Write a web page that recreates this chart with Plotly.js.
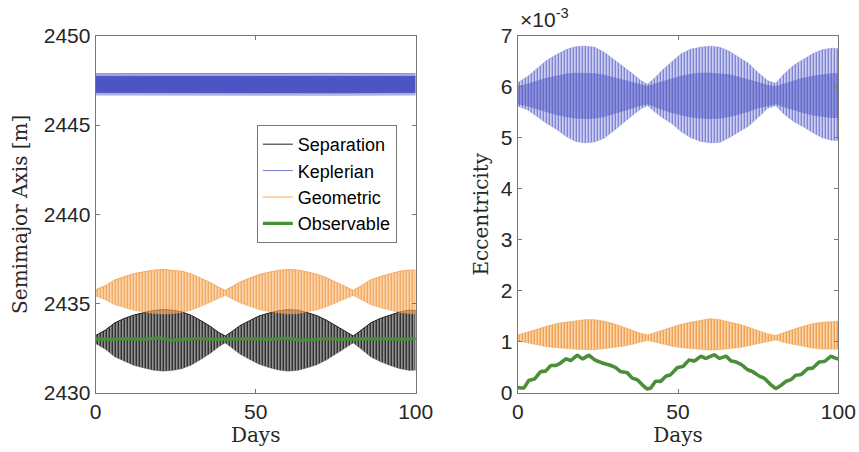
<!DOCTYPE html>
<html>
<head>
<meta charset="utf-8">
<script src="https://cdn.plot.ly/plotly-3.0.1.min.js"></script>
<style>html,body{margin:0;padding:0;background:#fff;}#chart{width:859px;height:452px;}</style>
</head>
<body>
<div id="chart"></div>
<script>
// Envelope sample days
const envDays = [0,3,6,9,12,15,18,21,24,27,30,33,36,38.5,40.5,42.5,45,48,51,54,57,60,63,66,69,72,75,78,80.5,83,86,89,92,95,98,100];

// Left panel: semimajor axis [m] — upper/lower envelopes of the fast oscillation
const sepUpper = [2433.20,2433.50,2433.91,2434.16,2434.35,2434.49,2434.60,2434.65,2434.62,2434.52,2434.32,2434.02,2433.69,2433.36,2433.17,2433.41,2433.74,2434.02,2434.29,2434.45,2434.58,2434.65,2434.62,2434.49,2434.32,2434.07,2433.74,2433.41,2433.17,2433.50,2433.91,2434.16,2434.35,2434.52,2434.62,2434.60];
const sepLower = [2432.74,2432.43,2431.99,2431.73,2431.51,2431.38,2431.25,2431.20,2431.23,2431.34,2431.55,2431.87,2432.22,2432.57,2432.78,2432.51,2432.16,2431.87,2431.59,2431.41,2431.27,2431.20,2431.23,2431.38,2431.55,2431.81,2432.16,2432.51,2432.78,2432.43,2431.99,2431.73,2431.51,2431.34,2431.23,2431.25];
const geoUpper = [2435.76,2435.99,2436.32,2436.51,2436.67,2436.77,2436.86,2436.90,2436.87,2436.80,2436.64,2436.41,2436.15,2435.89,2435.73,2435.93,2436.19,2436.41,2436.61,2436.74,2436.85,2436.90,2436.87,2436.77,2436.64,2436.45,2436.19,2435.93,2435.73,2435.99,2436.32,2436.51,2436.67,2436.80,2436.87,2436.86];
const geoLower = [2435.41,2435.21,2434.92,2434.75,2434.61,2434.52,2434.43,2434.40,2434.42,2434.49,2434.63,2434.84,2435.07,2435.30,2435.44,2435.26,2435.03,2434.84,2434.65,2434.54,2434.45,2434.40,2434.42,2434.52,2434.63,2434.80,2435.03,2435.26,2435.44,2435.21,2434.92,2434.75,2434.61,2434.49,2434.42,2434.43];
const kepDays = [0,25,50,75,100];
const kepOuterUpper = [2447.88,2447.90,2447.88,2447.90,2447.88];
const kepOuterLower = [2446.68,2446.66,2446.68,2446.66,2446.68];
const kepCoreUpper = [2447.74,2447.75,2447.74,2447.75,2447.74];
const kepCoreLower = [2446.82,2446.80,2446.82,2446.80,2446.82];
const obsADays = [0,5,10,15,20,24,28,32,36,40,45,50,55,60,64,68,72,76,80,85,90,95,100];
const obsA = [2433.0,2432.98,2433.02,2432.98,2433.06,2432.92,2433.0,2433.03,2432.98,2433.0,2432.98,2433.02,2432.98,2433.05,2432.93,2433.0,2433.03,2432.98,2433.0,2432.98,2433.02,2432.98,2433.03];

// Right panel: eccentricity (units of 1e-3)
const kepEUpper = [6.08,6.20,6.36,6.52,6.63,6.73,6.79,6.80,6.78,6.68,6.54,6.40,6.25,6.12,6.05,6.16,6.32,6.49,6.65,6.74,6.78,6.80,6.78,6.70,6.58,6.46,6.28,6.12,6.07,6.25,6.42,6.53,6.65,6.73,6.76,6.75];
const kepELower = [5.62,5.55,5.42,5.28,5.17,5.03,4.93,4.90,4.92,4.99,5.14,5.30,5.45,5.57,5.63,5.52,5.40,5.28,5.12,5.00,4.93,4.90,4.91,5.00,5.12,5.23,5.40,5.58,5.63,5.47,5.32,5.22,5.10,5.00,4.95,4.95];
const kepECoreUpper = [6.02,6.06,6.12,6.18,6.22,6.26,6.28,6.28,6.27,6.24,6.19,6.13,6.08,6.04,6.02,6.06,6.11,6.17,6.22,6.26,6.28,6.28,6.27,6.25,6.20,6.15,6.09,6.04,6.02,6.07,6.13,6.18,6.22,6.25,6.27,6.27];
const kepECoreLower = [5.66,5.62,5.56,5.50,5.45,5.41,5.38,5.37,5.38,5.41,5.47,5.53,5.59,5.63,5.66,5.61,5.55,5.49,5.44,5.40,5.38,5.37,5.38,5.41,5.46,5.51,5.58,5.63,5.66,5.60,5.54,5.49,5.44,5.41,5.39,5.39];
const geoEUpper = [1.13,1.18,1.24,1.30,1.35,1.38,1.41,1.43,1.43,1.40,1.35,1.28,1.21,1.16,1.13,1.17,1.23,1.29,1.34,1.38,1.42,1.45,1.43,1.39,1.34,1.28,1.21,1.15,1.12,1.18,1.24,1.30,1.35,1.38,1.40,1.40];
const geoELower = [1.01,0.97,0.93,0.90,0.88,0.86,0.85,0.84,0.84,0.86,0.88,0.91,0.95,0.99,1.02,0.99,0.95,0.91,0.88,0.86,0.84,0.83,0.84,0.86,0.88,0.92,0.96,1.00,1.03,0.98,0.94,0.90,0.87,0.85,0.85,0.85];
const obsEDays = [0,1.9,3.5,5.1,7.2,8.7,10.3,11.8,13.4,15.0,16.5,18.6,20.2,22.2,23.8,26.4,29.0,30.5,32.1,34.1,35.8,37.3,38.9,40.4,41.5,43.0,44.6,46.2,47.7,49.8,51.5,53.5,55.1,57.2,58.7,61.3,62.9,65.0,66.5,68.1,69.7,71.7,73.3,75.4,76.9,79.0,80.6,82.1,83.7,85.2,86.8,88.3,90.5,92.0,94.1,95.7,97.7,99.3,100];
const obsE = [0.10,0.09,0.24,0.26,0.41,0.42,0.53,0.53,0.58,0.66,0.63,0.73,0.66,0.73,0.65,0.58,0.53,0.49,0.41,0.39,0.28,0.25,0.15,0.07,0.09,0.22,0.22,0.32,0.35,0.49,0.51,0.64,0.62,0.71,0.67,0.74,0.67,0.71,0.62,0.60,0.55,0.45,0.41,0.32,0.28,0.15,0.08,0.14,0.22,0.25,0.34,0.35,0.47,0.48,0.60,0.61,0.71,0.67,0.66];

const xTicks = [0,50,100];
const yTicksA = [2430,2435,2440,2445,2450];
const yTicksE = [0,1,2,3,4,5,6,7];

const cBlue = 'rgb(78,84,196)';
const cGreen = 'rgb(74,142,58)';

function band(x, up, lo, xa, ya, name, lineCol, fillCol, pattern, showLeg, legCol, lw){
  const t1 = {x:x, y:up, xaxis:xa, yaxis:ya, mode:'lines', type:'scatter', name:name,
    line:{color:legCol||lineCol, width:(lw===undefined?1:lw)}, showlegend:!!showLeg, hoverinfo:'skip'};
  const t2 = {x:x, y:lo, xaxis:xa, yaxis:ya, mode:'lines', type:'scatter', name:name,
    line:{color:lineCol, width:(lw===undefined?0.6:lw)}, fill:'tonexty', fillcolor:fillCol, showlegend:false, hoverinfo:'skip'};
  if (pattern) t2.fillpattern = pattern;
  return [t1, t2];
}

const traces = [];
// Left panel
traces.push(...band(envDays, sepUpper, sepLower, 'x', 'y', 'Separation', 'rgba(100,100,100,0.6)', 'rgba(120,120,120,0.8)',
  {shape:'|', size:3, solidity:0.45, fgcolor:'rgba(0,0,0,0.95)', bgcolor:'rgba(145,145,145,0.75)'}, true, 'rgb(30,30,30)'));
traces.push(...band(kepDays, kepOuterUpper, kepOuterLower, 'x', 'y', 'Keplerian', 'rgba(120,126,210,0.5)', 'rgba(120,126,210,0.55)',
  null, true, 'rgb(120,126,205)'));
traces.push(...band(kepDays, kepCoreUpper, kepCoreLower, 'x', 'y', 'KeplerianCore', cBlue, 'rgb(78,84,196)', null, false));
traces.push(...band(envDays, geoUpper, geoLower, 'x', 'y', 'Geometric', 'rgba(240,150,50,0.6)', 'rgba(245,170,90,0.6)',
  {shape:'|', size:3, solidity:0.4, fgcolor:'rgba(236,130,20,0.75)', bgcolor:'rgba(247,190,130,0.55)'}, true, 'rgb(245,170,95)'));
traces.push({x:obsADays, y:obsA, xaxis:'x', yaxis:'y', mode:'lines', type:'scatter', name:'Observable',
  line:{color:cGreen, width:3.2}, showlegend:true, hoverinfo:'skip'});

// Right panel
traces.push(...band(envDays, kepEUpper, kepELower, 'x2', 'y2', 'KepE', 'rgba(140,146,220,0.5)', 'rgba(150,155,220,0.6)',
  {shape:'|', size:3, solidity:0.35, fgcolor:'rgba(78,84,196,0.85)', bgcolor:'rgba(172,177,230,0.6)'}, false));
traces.push(...band(envDays, kepECoreUpper, kepECoreLower, 'x2', 'y2', 'KepECore', 'rgba(78,84,196,0)', 'rgba(78,84,196,0.5)', null, false, null, 0));
traces.push(...band(envDays, geoEUpper, geoELower, 'x2', 'y2', 'GeoE', 'rgba(240,150,50,0.5)', 'rgba(245,175,100,0.6)',
  {shape:'|', size:3, solidity:0.4, fgcolor:'rgba(236,130,20,0.85)', bgcolor:'rgba(247,195,140,0.6)'}, false));
traces.push({x:obsEDays, y:obsE, xaxis:'x2', yaxis:'y2', mode:'lines', type:'scatter', name:'ObsE',
  line:{color:cGreen, width:3.6, shape:'spline', smoothing:0.3}, showlegend:false, hoverinfo:'skip'});

const tickFont = {family:'Liberation Sans, Arial, sans-serif', size:21, color:'rgb(38,38,38)'};
const titleFont = {family:'DejaVu Serif, Liberation Serif, serif', size:20, color:'rgb(38,38,38)'};
const axBase = {showgrid:false, zeroline:false, showline:true, linecolor:'rgb(120,120,120)', linewidth:1,
  mirror:'ticks', ticks:'inside', ticklen:4, tickcolor:'rgb(120,120,120)', tickfont:tickFont};

const layout = {
  width:859, height:452,
  margin:{l:0, r:0, t:0, b:0},
  paper_bgcolor:'#fff', plot_bgcolor:'#fff',
  showlegend:true,
  xaxis: Object.assign({}, axBase, {domain:[0.1114,0.4839], range:[0,100], tickvals:xTicks, anchor:'y',
    title:{text:'Days', font:titleFont, standoff:4}}),
  yaxis: Object.assign({}, axBase, {domain:[0.1316,0.9204], range:[2430,2450], tickvals:yTicksA, anchor:'x',
    title:{text:'Semimajor Axis [m]', font:titleFont, standoff:10}}),
  xaxis2: Object.assign({}, axBase, {domain:[0.6027,0.9759], range:[0,100], tickvals:xTicks, anchor:'y2',
    title:{text:'Days', font:titleFont, standoff:4}}),
  yaxis2: Object.assign({}, axBase, {domain:[0.1316,0.9204], range:[0,7], tickvals:yTicksE, anchor:'x2',
    title:{text:'Eccentricity', font:titleFont, standoff:6}}),
  legend:{x:0.299, y:0.7235, xanchor:'left', yanchor:'top', bgcolor:'#fff', bordercolor:'rgb(120,120,120)', borderwidth:1,
    traceorder:'normal',
    font:{family:'Liberation Sans, Arial, sans-serif', size:18, color:'#000'}, tracegroupgap:0, itemwidth:30},
  annotations:[{xref:'paper', yref:'paper', x:0.6027, y:0.9204, xanchor:'left', yanchor:'bottom', yshift:3, showarrow:false,
    text:'×10<sup>-3</sup>', font:{family:'Liberation Sans, Arial, sans-serif', size:21, color:'rgb(38,38,38)'}}]
};

Plotly.newPlot('chart', traces, layout, {staticPlot:true, displayModeBar:false});
</script>
</body>
</html>
